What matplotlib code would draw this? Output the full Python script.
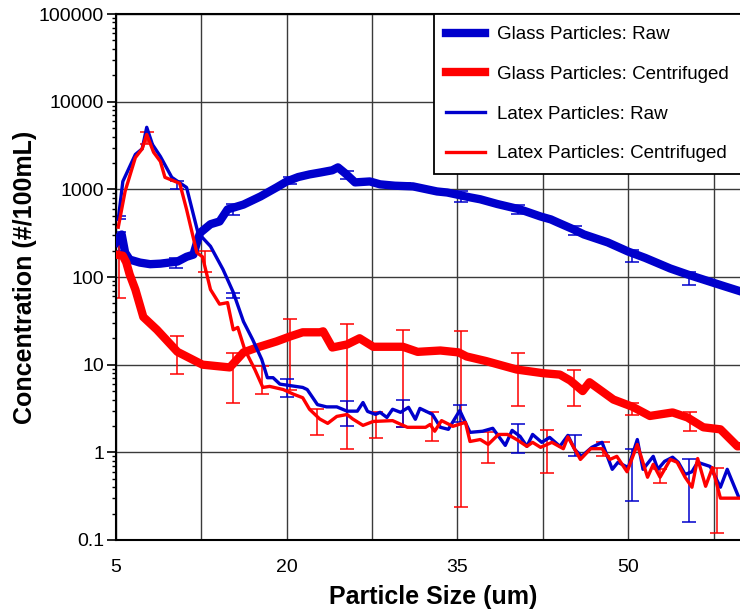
import matplotlib as mpl
mpl.use('Agg')
import matplotlib.pyplot as plt
from matplotlib.ticker import LogLocator, FixedLocator, NullFormatter
import numpy as np

plt.rcParams['font.family'] = ['Liberation Sans', 'DejaVu Sans']

# ---- data ----
glass_raw_x = [5.0, 5.3, 5.5, 5.8, 6.2, 7.1, 8.0, 8.9, 10.4, 11.2, 11.8, 12.2, 12.4, 13.3, 14.1, 14.8,
               16.2, 17.7, 19.1, 20.0, 21.0, 22.0, 23.0, 24.0, 24.5, 25.2, 26.0, 27.3, 28.2, 29.5, 31.1,
               33.2, 34.1, 36.1, 37.0, 38.5, 40.5, 42.3, 43.2, 43.8, 45.2, 46.1, 48.2, 50.0, 51.5, 53.7,
               55.2, 57.0, 58.5, 59.8]
glass_raw_y = [250, 290, 305, 190, 158, 146, 140, 142, 150, 170, 180, 270, 320, 400, 430, 590,
               670, 830, 1050, 1230, 1380, 1480, 1560, 1650, 1780, 1500, 1200, 1230, 1140, 1100, 1080,
               946, 920, 810, 770, 680, 590, 490, 454, 419, 349, 306, 248, 195, 165, 125,
               107, 90, 78, 69]

glass_cen_x = [5.0, 5.6, 5.9, 6.2, 6.7, 7.4, 8.6, 10.4, 12.6, 15.0, 16.2, 17.4, 19.1, 20.3, 21.4, 22.9,
               23.2, 24.0, 25.3, 26.4, 27.6, 30.2, 31.5, 33.5, 35.1, 35.8, 37.5, 40.2, 42.5, 44.0, 44.9,
               46.0, 46.6, 48.7, 50.4, 51.9, 53.9, 55.2, 56.6, 58.1, 59.6, 60.5]
glass_cen_y = [180, 175, 147, 107, 72, 35, 25, 14, 10, 9.3, 13.8, 15.7, 18.4, 21, 23.4, 23.4,
               24, 15.7, 17, 20, 16, 16, 14, 14.5, 13.8, 12.4, 11, 8.8, 8.0, 7.7, 6.6,
               5.0, 6.3, 4.0, 3.3, 2.6, 2.85, 2.5, 1.93, 1.83, 1.17, 1.2]

latex_raw_x = [5.2, 5.6, 6.7, 7.3, 7.7, 8.2, 8.9, 9.9, 11.2, 12.2, 13.3, 14.4, 15.3, 16.2, 17.0, 17.8,
               18.3, 18.8, 19.4, 21.4, 21.8, 22.7, 23.5, 24.4, 25.3, 26.2, 26.7, 27.1, 27.8, 28.2, 28.8,
               29.3, 30.0, 30.7, 31.3, 31.7, 32.8, 33.5, 34.2, 35.2, 36.1, 37.2, 38.1, 39.2, 39.8, 40.5,
               41.1, 41.6, 42.4, 43.1, 44.0, 44.7, 45.3, 45.9, 46.8, 47.7, 48.6, 49.1, 50.0, 50.8, 51.3,
               52.2, 52.6, 53.2, 53.9, 54.4, 55.0, 55.6, 56.1, 57.2, 58.1, 58.7, 59.7]
latex_raw_y = [455, 1230, 2500, 2900, 5100, 3250, 2370, 1370, 1050, 320, 224, 122, 67, 31, 19.4, 11.5,
               7.1, 7.1, 6.0, 5.5, 5.2, 3.5, 3.3, 3.3, 2.95, 2.95, 3.7, 2.93, 2.71, 2.86, 2.5,
               3.1, 2.86, 3.26, 2.38, 3.17, 2.71, 1.93, 1.83, 3.0, 1.69, 1.74, 1.88, 1.2, 1.78, 1.52,
               1.17, 1.6, 1.3, 1.48, 1.17, 1.56, 1.08, 0.9, 1.14, 1.3, 0.64, 0.77, 0.67, 1.4, 0.64,
               0.9, 0.64, 0.79, 0.88, 0.77, 0.56, 0.6, 0.77, 0.69, 0.4, 0.64, 0.31]

latex_cen_x = [5.2, 5.8, 6.7, 7.3, 7.7, 8.3, 8.9, 9.3, 10.6, 11.2, 12.1, 12.6, 13.3, 14.1, 14.8, 15.3,
               15.7, 16.3, 17.2, 17.9, 18.5, 19.7, 20.6, 21.4, 22.0, 22.9, 23.6, 24.4, 25.3, 25.8, 26.7,
               27.6, 29.3, 30.6, 32.2, 32.6, 33.0, 33.6, 34.6, 35.7, 36.1, 37.0, 37.7, 38.6, 39.4, 40.2,
               41.1, 41.6, 42.3, 43.3, 44.3, 44.7, 45.8, 46.7, 47.7, 48.4, 49.0, 49.9, 50.8, 51.7, 52.2,
               52.8, 53.7, 54.3, 55.0, 55.6, 56.1, 56.8, 57.4, 58.1, 59.8]
latex_cen_y = [370, 950, 2300, 2900, 4230, 2650, 2080, 1370, 1170, 590, 190, 170, 72, 49, 51, 25,
               26.6, 15, 8.8, 5.5, 5.65, 5.2, 4.6, 4.2, 3.1, 2.4, 2.14, 2.57, 2.7, 2.4, 2.03,
               2.25, 2.3, 1.93, 1.93, 2.08, 1.74, 2.3, 1.98, 2.2, 1.33, 1.4, 1.23, 1.6, 1.6, 1.4,
               1.17, 1.3, 1.14, 1.3, 1.1, 1.5, 0.83, 1.1, 1.1, 0.83, 0.9, 0.6, 1.23, 0.52, 0.73,
               0.52, 0.83, 0.77, 0.52, 0.4, 0.85, 0.41, 0.67, 0.3, 0.3]

# error bars: x, low end, high end
glass_raw_ex = [5.3, 10.3, 15.3, 20.3, 25.3, 30.3, 35.3, 40.3, 45.3, 50.3, 55.3]
glass_raw_lo = [200, 128, 505, 1140, 1300, 1000, 710, 520, 300, 150, 82]
glass_raw_hi = [330, 165, 680, 1400, 1600, 1180, 950, 660, 380, 205, 115]

glass_cen_ex = [5.3, 10.4, 15.3, 20.3, 25.3, 30.2, 35.3, 40.3, 45.2, 50.3, 55.4]
glass_cen_lo = [57, 7.8, 3.7, 5.2, 1.1, 1.93, 0.24, 3.35, 3.4, 2.7, 1.74]
glass_cen_hi = [265, 21, 13.5, 33, 29, 24.6, 24, 13.5, 8.6, 3.7, 2.9]

latex_raw_ex = [5.3, 10.4, 15.3, 20.0, 25.3, 30.2, 35.2, 40.3, 45.3, 50.3, 55.3]
latex_raw_lo = [460, 1000, 57, 4.3, 2.0, 1.93, 2.2, 0.97, 0.9, 0.28, 0.16]
latex_raw_hi = [500, 1250, 65, 6.8, 3.9, 4.0, 3.5, 2.08, 1.56, 1.1, 0.85]

latex_cen_ex = [7.7, 12.8, 17.8, 22.7, 27.8, 32.8, 37.7, 42.9, 47.8, 52.8, 57.8]
latex_cen_lo = [3250, 113, 4.6, 1.56, 1.44, 1.33, 0.75, 0.58, 0.9, 0.45, 0.12]
latex_cen_hi = [4500, 200, 9.6, 3.1, 2.9, 2.85, 1.69, 1.78, 1.3, 0.65, 0.67]

labels = ['Glass Particles: Raw', 'Glass Particles: Centrifuged',
          'Latex Particles: Raw', 'Latex Particles: Centrifuged']
x_ticks = [5, 12.5, 20, 27.5, 35, 42.5, 50, 57.5]
x_ticklabels = ['5', '', '20', '', '35', '', '50', '']

BLUE = '#0000cc'
RED = '#ff0000'

fig = plt.figure(figsize=(7.4, 6.11), dpi=100)
# axes runs slightly past the right edge of the picture, as in the reference
ax = fig.add_axes([116/740, 71/611, 634/740, 526/611])


def errs(x, lo, hi, color):
    lo = np.array(lo, dtype=float)
    hi = np.array(hi, dtype=float)
    ax.errorbar(x, lo, yerr=[np.zeros_like(lo), hi - lo], fmt='none', ecolor=color,
                elinewidth=1.1, capsize=5, capthick=1.1, zorder=2)


errs(glass_raw_ex, glass_raw_lo, glass_raw_hi, BLUE)
errs(glass_cen_ex, glass_cen_lo, glass_cen_hi, RED)
errs(latex_raw_ex, latex_raw_lo, latex_raw_hi, BLUE)
errs(latex_cen_ex, latex_cen_lo, latex_cen_hi, RED)

ax.plot(glass_raw_x, glass_raw_y, color=BLUE, lw=6, label=labels[0], zorder=3)
ax.plot(glass_cen_x, glass_cen_y, color=RED, lw=6, label=labels[1], zorder=3)
ax.plot(latex_raw_x, latex_raw_y, color=BLUE, lw=2.4, label=labels[2], zorder=4)
ax.plot(latex_cen_x, latex_cen_y, color=RED, lw=2.4, label=labels[3], zorder=4)

ax.set_yscale('log')
ax.set_ylim(0.1, 100000)
ax.set_xlim(5, 60.7)

ax.set_yticks([0.1, 1, 10, 100, 1000, 10000, 100000])
ax.set_yticklabels(['0.1', '1', '10', '100', '1000', '10000', '100000'])
ax.yaxis.set_minor_locator(LogLocator(base=10, subs=np.arange(2, 10)))
ax.yaxis.set_minor_formatter(NullFormatter())
ax.xaxis.set_major_locator(FixedLocator(x_ticks))
ax.set_xticklabels(x_ticklabels)

ax.tick_params(axis='y', which='major', length=6.5, width=1.2, labelsize=14, pad=2)
ax.tick_params(axis='y', which='minor', length=3, width=1.0)
ax.tick_params(axis='x', which='major', length=0, labelsize=14, pad=14)

ax.grid(True, which='major', color='#3a3a3a', lw=1.0)
ax.set_axisbelow(True)
for s in ax.spines.values():
    s.set_linewidth(1.5)

ax.set_xlabel('Particle Size (um)', fontsize=18, fontweight='bold')
ax.set_ylabel('Concentration (#/100mL)', fontsize=18, fontweight='bold')
ax.xaxis.set_label_coords(0.5, -0.085)
ax.yaxis.set_label_coords(-0.1246, 0.5)

leg = ax.legend(loc='upper left', mode='expand', fontsize=13.5,
                bbox_to_anchor=(434/740, 0, 320/740, 1 - 14/611),
                bbox_transform=fig.transFigure, borderaxespad=0,
                fancybox=False, framealpha=1, edgecolor='black',
                handlelength=2.05, handletextpad=0.65, labelspacing=1.2,
                borderpad=0.65)
leg.get_frame().set_linewidth(1.3)

fig.savefig('out.png', dpi=100)
